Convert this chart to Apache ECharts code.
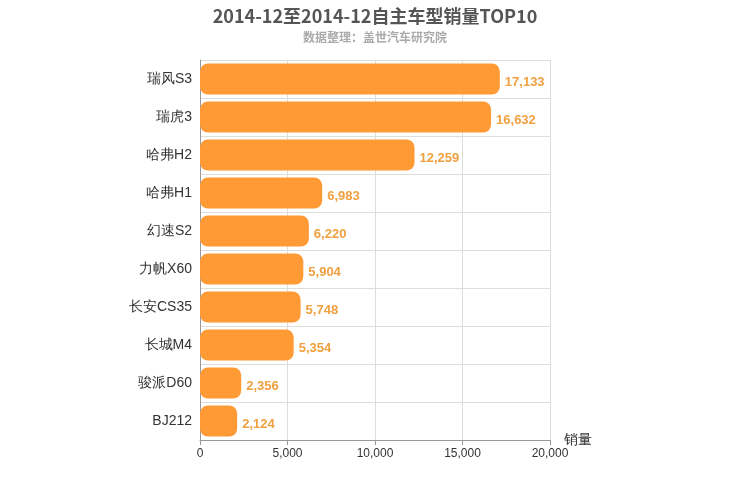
<!DOCTYPE html>
<html><head><meta charset="utf-8">
<script src="https://cdn.jsdelivr.net/npm/echarts@6/dist/echarts.min.js"></script>
<style>body{margin:0}#c{width:750px;height:500px}</style></head>
<body><div id="c"></div>
<script>
const categories = ['瑞风S3','瑞虎3','哈弗H2','哈弗H1','幻速S2','力帆X60','长安CS35','长城M4','骏派D60','BJ212'];
const sales = [17133,16632,12259,6983,6220,5904,5748,5354,2356,2124];
const xTicks = {min:0,max:20000,interval:5000};
const chart = echarts.init(document.getElementById('c'));
chart.setOption({
  title:{text:'2014-12至2014-12自主车型销量TOP10',subtext:'数据整理：盖世汽车研究院',left:'center',top:2,itemGap:6,
    textStyle:{fontSize:18,fontWeight:'bold',color:'#555',fontFamily:'Noto Sans CJK SC'},
    subtextStyle:{fontSize:12,fontWeight:'bold',color:'#aaa',fontFamily:'Noto Sans CJK SC'}},
  grid:{left:200,right:200,top:60,bottom:60},
  xAxis:{type:'value',min:xTicks.min,max:xTicks.max,interval:xTicks.interval,name:'销量',nameLocation:'end',nameGap:14,
    nameTextStyle:{fontSize:14,color:'#333',verticalAlign:'middle',padding:[8,0,0,0]},
    axisLine:{show:true,lineStyle:{color:'#999'}},axisTick:{show:true},
    axisLabel:{color:'#333',fontSize:12,formatter:v=>v.toLocaleString('en-US')},
    splitLine:{lineStyle:{color:'#ddd'}}},
  yAxis:{type:'category',data:categories,inverse:true,
    axisLine:{lineStyle:{color:'#999'}},axisTick:{show:false},
    axisLabel:{color:'#333',fontSize:14,margin:8},
    splitLine:{show:true,lineStyle:{color:'#ddd'}}},
  series:[{type:'bar',data:sales,barWidth:'82%',
    itemStyle:{color:'#ff9a35',borderRadius:8},
    label:{show:true,position:'right',offset:[0,3],color:'#f0a040',fontWeight:'bold',fontSize:13,
      formatter:p=>p.value.toLocaleString('en-US')}}]
});
</script></body></html>
